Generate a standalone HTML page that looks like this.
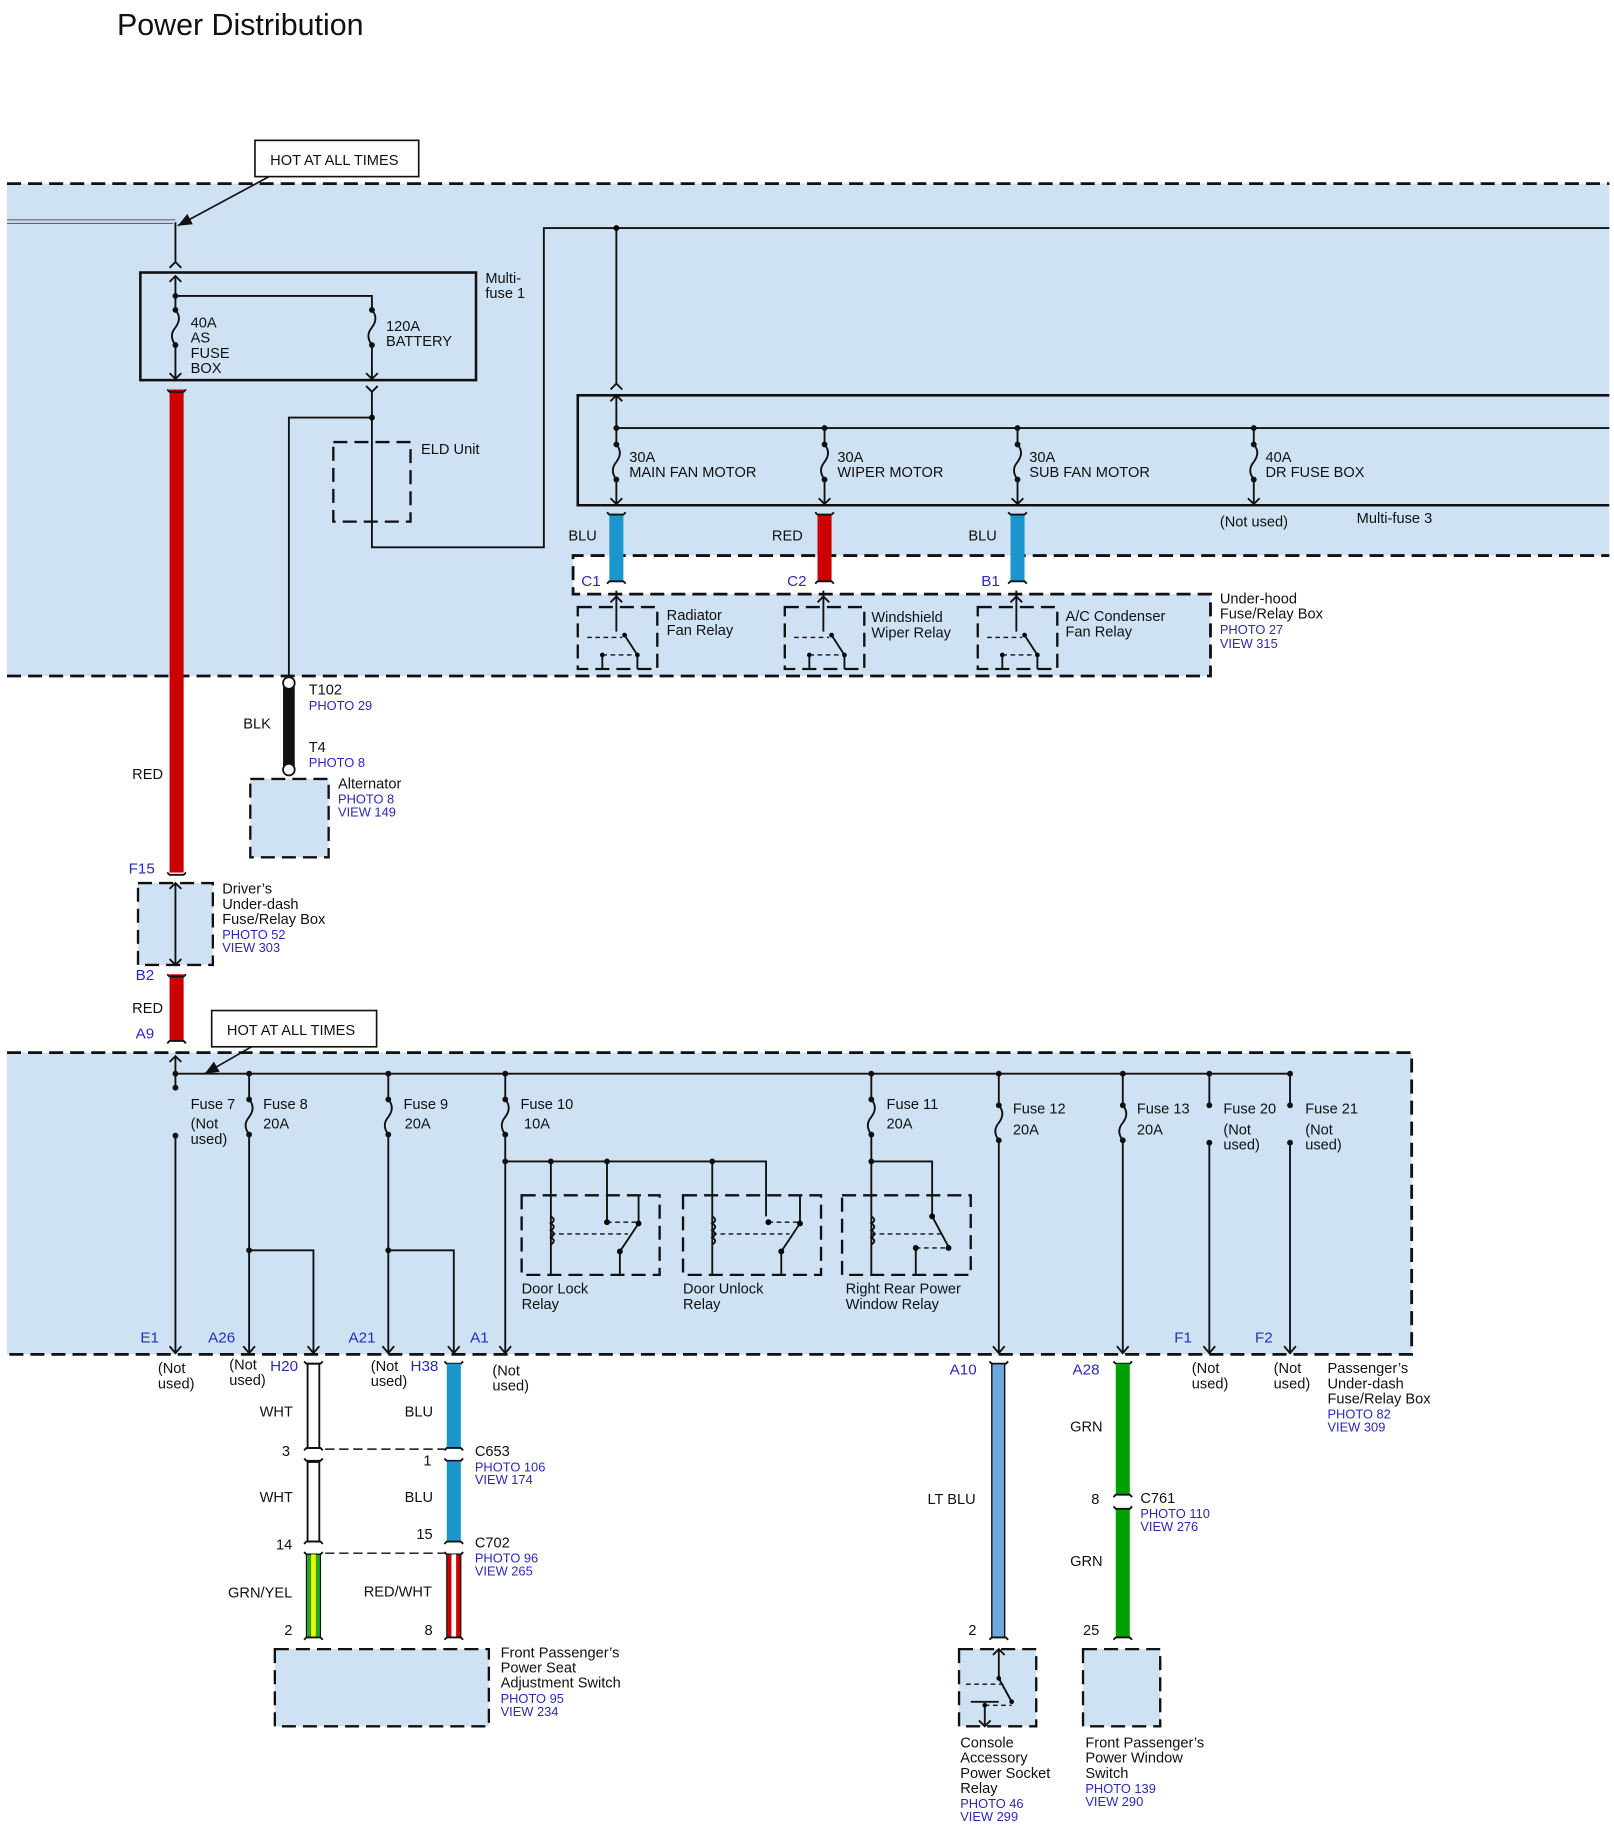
<!DOCTYPE html>
<html><head><meta charset="utf-8"><style>
html,body{margin:0;padding:0;background:#fff}
svg{display:block}
text{font-family:"Liberation Sans",Arial,sans-serif;font-size:12.5px;fill:#111}
.b{fill:#2a2ab8;font-size:11px}
.p{fill:#2a2ab8;font-size:13px}
.l{stroke:#111;stroke-width:1.6;fill:none}
.d{stroke:#111;stroke-width:2.4;fill:none;stroke-dasharray:12 6}
.ds{stroke:#111;stroke-width:1.2;fill:none;stroke-dasharray:4 3}
.bx{stroke:#111;stroke-width:2.2;fill:none}
</style></head><body>
<svg width="1614" height="1831" viewBox="0 0 1380 1565.5" preserveAspectRatio="none" xmlns="http://www.w3.org/2000/svg">
<defs>
<marker id="af" markerWidth="14" markerHeight="12" refX="12" refY="6" orient="auto" markerUnits="userSpaceOnUse"><path d="M0,1 L12,6 L0,11 z" fill="#111"/></marker>
</defs>
<text x="100" y="30" style="font-size:26px">Power Distribution</text>

<path d="M6,157 H1376 V475 H490 V508 H1035 V578 H6 Z" fill="#cfe2f3"/>
<path class="d" d="M6,157 H1376"/>
<path class="d" d="M6,578 H1035 V508 H490 V475 H1376"/>

<rect x="218" y="120" width="140" height="31" fill="#fff" stroke="#111" stroke-width="1.4"/>
<text x="231" y="141">HOT AT ALL TIMES</text>
<line x1="230" y1="151" x2="152" y2="193" stroke="#111" stroke-width="1.4" marker-end="url(#af)"/>
<path d="M6,188 H150 M6,191 H148" stroke="#555" stroke-width="0.8" fill="none"/>
<path class="l" d="M150,190 V224"/>
<path class="l" d="M145,229 L150,224 L155,229"/>

<rect class="bx" x="120" y="233" width="287" height="92"/>
<text x="415" y="242">Multi-</text><text x="415" y="255">fuse 1</text>
<path class="l" d="M150,236 V265 M150,295 V325 M150,253 H318 V265 M318,295 V325"/>
<path class="l" d="M145,241 L150,236 L155,241 M145,319 L150,324 L155,319 M313,319 L318,324 L323,319"/>
<path class="l" d="M150,265 q6,7 0,15 q-6,7 0,15 M318,265 q6,7 0,15 q-6,7 0,15"/>
<g fill="#111"><circle cx="150" cy="253" r="2.5"/><circle cx="150" cy="265" r="2.5"/><circle cx="150" cy="295" r="2.5"/><circle cx="318" cy="265" r="2.5"/><circle cx="318" cy="295" r="2.5"/></g>
<text x="163" y="280">40A</text><text x="163" y="293">AS</text><text x="163" y="306">FUSE</text><text x="163" y="319">BOX</text>
<text x="330" y="283">120A</text><text x="330" y="296">BATTERY</text>

<rect x="145" y="333" width="12" height="413" fill="#cc0000"/>
<path class="l" d="M143,333 L145,335 H157 L159,333"/>
<path class="l" d="M313,330 L318,335 L323,330 M318,335 V468 H465 V195 H1376"/>
<circle cx="318" cy="357" r="2.5"/>
<path class="l" d="M318,357 H247 V583"/>
<rect x="285" y="378" width="66" height="68" class="d" style="stroke-width:2"/>
<text x="360" y="388">ELD Unit</text>

<circle cx="527" cy="195" r="2.5"/>
<path class="l" d="M527,195 V328 M522,333 L527,328 L532,333"/>
<path class="bx" d="M1376,338 H494 V432 H1376"/>
<path class="l" d="M527,338 V380 M527,366 H1376 M705,366 V380 M870,366 V380 M1072,366 V380"/>
<path class="l" d="M522,343 L527,338 L532,343"/>
<g class="l"><path d="M527,380 q6,7 0,15 q-6,7 0,15 M705,380 q6,7 0,15 q-6,7 0,15 M870,380 q6,7 0,15 q-6,7 0,15 M1072,380 q6,7 0,15 q-6,7 0,15"/>
<path d="M527,410 V432 M705,410 V432 M870,410 V432 M1072,410 V432 M522,426 L527,431 L532,426 M700,426 L705,431 L710,426 M865,426 L870,431 L875,426 M1067,426 L1072,431 L1077,426"/></g>
<g fill="#111"><circle cx="527" cy="366" r="2.5"/><circle cx="705" cy="366" r="2.5"/><circle cx="870" cy="366" r="2.5"/><circle cx="1072" cy="366" r="2.5"/>
<circle cx="527" cy="380" r="2.5"/><circle cx="527" cy="410" r="2.5"/><circle cx="705" cy="380" r="2.5"/><circle cx="705" cy="410" r="2.5"/><circle cx="870" cy="380" r="2.5"/><circle cx="870" cy="410" r="2.5"/><circle cx="1072" cy="380" r="2.5"/><circle cx="1072" cy="410" r="2.5"/></g>
<text x="538" y="395">30A</text><text x="538" y="408">MAIN FAN MOTOR</text>
<text x="716" y="395">30A</text><text x="716" y="408">WIPER MOTOR</text>
<text x="880" y="395">30A</text><text x="880" y="408">SUB FAN MOTOR</text>
<text x="1082" y="395">40A</text><text x="1082" y="408">DR FUSE BOX</text>
<text x="1043" y="450">(Not used)</text><text x="1160" y="447">Multi-fuse 3</text>

<rect x="521" y="440" width="12" height="57" fill="#1a96cc"/>
<rect x="699" y="440" width="12" height="57" fill="#cc0000"/>
<rect x="864" y="440" width="12" height="57" fill="#1a96cc"/>
<path class="l" d="M519,438 L521,440 H533 L535,438 M697,438 L699,440 H711 L713,438 M862,438 L864,440 H876 L878,438 M519,499 L521,497 H533 L535,499 M697,499 L699,497 H711 L713,499 M862,499 L864,497 H876 L878,499"/>
<text x="486" y="462">BLU</text><text x="660" y="462">RED</text><text x="828" y="462">BLU</text>
<text x="497" y="501" class="p">C1</text><text x="673" y="501" class="p">C2</text><text x="839" y="501" class="p">B1</text>

<g id="r1">
<rect x="494" y="519" width="68" height="53" class="d" style="stroke-width:2"/>
<path class="l" d="M527,505 V540 M522,515 L527,510 L532,515 M515,560 V572 M545,560 V572 M545,560 L534,543"/>
<circle cx="534" cy="543" r="2"/><circle cx="545" cy="560" r="2"/><circle cx="515" cy="560" r="2"/>
<path class="ds" d="M502,545 H532 M515,560 H545"/>
</g>
<use href="#r1" x="177"/><use href="#r1" x="342"/>
<text x="570" y="530">Radiator</text><text x="570" y="543">Fan Relay</text>
<text x="745" y="532">Windshield</text><text x="745" y="545">Wiper Relay</text>
<text x="911" y="531">A/C Condenser</text><text x="911" y="544">Fan Relay</text>
<text x="1043" y="516">Under-hood</text><text x="1043" y="529">Fuse/Relay Box</text>
<text x="1043" y="542" class="b">PHOTO 27</text><text x="1043" y="554" class="b">VIEW 315</text>

<rect x="242" y="585" width="10" height="73" fill="#111"/>
<circle cx="247" cy="584" r="5" fill="#fff" stroke="#111" stroke-width="1.5"/>
<circle cx="247" cy="658" r="5" fill="#fff" stroke="#111" stroke-width="1.5"/>
<text x="264" y="594">T102</text><text x="264" y="607" class="b">PHOTO 29</text>
<text x="208" y="623">BLK</text>
<text x="264" y="643">T4</text><text x="264" y="656" class="b">PHOTO 8</text>
<rect x="214" y="666" width="67" height="67" class="d" style="stroke-width:2;fill:#cfe2f3"/>
<text x="289" y="674">Alternator</text><text x="289" y="687" class="b">PHOTO 8</text><text x="289" y="698" class="b">VIEW 149</text>
<text x="113" y="666">RED</text>

<path class="l" d="M143,746 L145,748 H157 L159,746"/>
<text x="110" y="747" class="p">F15</text>
<rect x="118" y="755" width="64" height="70" class="d" style="stroke-width:2;fill:#cfe2f3"/>
<path class="l" d="M150,755 V825 M145,760 L150,755 L155,760 M145,820 L150,825 L155,820"/>
<text x="190" y="764">Driver’s</text><text x="190" y="777">Under-dash</text><text x="190" y="790">Fuse/Relay Box</text>
<text x="190" y="803" class="b">PHOTO 52</text><text x="190" y="814" class="b">VIEW 303</text>
<text x="116" y="838" class="p">B2</text>
<rect x="145" y="833" width="12" height="57" fill="#cc0000"/>
<path class="l" d="M143,833 L145,835 H157 L159,833 M143,892 L145,890 H157 L159,892"/>
<text x="113" y="866">RED</text><text x="116" y="888" class="p">A9</text>

<rect x="6" y="900" width="1201" height="258" fill="#cfe2f3"/>
<path class="d" d="M6,900 H1207 V1158 H6"/>
<rect x="181" y="864" width="141" height="31" fill="#fff" stroke="#111" stroke-width="1.4"/>
<text x="194" y="885">HOT AT ALL TIMES</text>
<line x1="215" y1="895" x2="175" y2="918" stroke="#111" stroke-width="1.4" marker-end="url(#af)"/>
<path class="l" d="M150,903 V930 M145,908 L150,903 L155,908 M150,918 H1103"/>
<g fill="#111">
<circle cx="150" cy="918" r="2.5"/><circle cx="213" cy="918" r="2.5"/><circle cx="332" cy="918" r="2.5"/><circle cx="432" cy="918" r="2.5"/><circle cx="745" cy="918" r="2.5"/><circle cx="854" cy="918" r="2.5"/><circle cx="960" cy="918" r="2.5"/><circle cx="1034" cy="918" r="2.5"/><circle cx="1103" cy="918" r="2.5"/>
<circle cx="150" cy="930" r="2.5"/><circle cx="150" cy="971" r="2.5"/>
<circle cx="213" cy="940" r="2.5"/><circle cx="213" cy="970" r="2.5"/>
<circle cx="332" cy="940" r="2.5"/><circle cx="332" cy="970" r="2.5"/>
<circle cx="432" cy="940" r="2.5"/><circle cx="432" cy="970" r="2.5"/>
<circle cx="745" cy="940" r="2.5"/><circle cx="745" cy="970" r="2.5"/>
<circle cx="854" cy="945" r="2.5"/><circle cx="854" cy="975" r="2.5"/>
<circle cx="960" cy="945" r="2.5"/><circle cx="960" cy="975" r="2.5"/>
<circle cx="1034" cy="945" r="2.5"/><circle cx="1034" cy="977" r="2.5"/>
<circle cx="1103" cy="945" r="2.5"/><circle cx="1103" cy="977" r="2.5"/>
<circle cx="213" cy="1069" r="2.5"/><circle cx="332" cy="1069" r="2.5"/>
<circle cx="432" cy="993" r="2.5"/><circle cx="471" cy="993" r="2.5"/><circle cx="519" cy="993" r="2.5"/><circle cx="609" cy="993" r="2.5"/><circle cx="745" cy="993" r="2.5"/>
</g>
<g class="l">
<path d="M213,918 V940 M332,918 V940 M432,918 V940 M745,918 V940 M854,918 V945 M960,918 V945 M1034,918 V945 M1103,918 V945"/>
<path d="M213,940 q6,7 0,15 q-6,7 0,15 M332,940 q6,7 0,15 q-6,7 0,15 M432,940 q6,7 0,15 q-6,7 0,15 M745,940 q6,7 0,15 q-6,7 0,15 M854,945 q6,7 0,15 q-6,7 0,15 M960,945 q6,7 0,15 q-6,7 0,15"/>
<path d="M150,971 V1157 M213,970 V1157 M332,970 V1157 M432,970 V1157 M854,975 V1157 M960,975 V1157 M1034,977 V1157 M1103,977 V1157 M213,1069 H268 V1157 M332,1069 H388 V1157 M432,993 H655 V1040 M471,993 V1090 M519,993 V1045 M609,993 V1090 M745,970 V1090 M745,993 H797 V1040"/>
<path d="M145,1151 L150,1157 L155,1151 M208,1151 L213,1157 L218,1151 M263,1151 L268,1157 L273,1151 M327,1151 L332,1157 L337,1151 M383,1151 L388,1157 L393,1151 M427,1151 L432,1157 L437,1151 M849,1151 L854,1157 L859,1151 M955,1151 L960,1157 L965,1151 M1029,1151 L1034,1157 L1039,1151 M1098,1151 L1103,1157 L1108,1151"/>
</g>
<text x="163" y="948">Fuse 7</text><text x="163" y="965">(Not</text><text x="163" y="978">used)</text>
<text x="225" y="948">Fuse 8</text><text x="225" y="965">20A</text>
<text x="345" y="948">Fuse 9</text><text x="346" y="965">20A</text>
<text x="445" y="948">Fuse 10</text><text x="448" y="965">10A</text>
<text x="758" y="948">Fuse 11</text><text x="758" y="965">20A</text>
<text x="866" y="952">Fuse 12</text><text x="866" y="970">20A</text>
<text x="972" y="952">Fuse 13</text><text x="972" y="970">20A</text>
<text x="1046" y="952">Fuse 20</text><text x="1046" y="970">(Not</text><text x="1046" y="983">used)</text>
<text x="1116" y="952">Fuse 21</text><text x="1116" y="970">(Not</text><text x="1116" y="983">used)</text>

<g id="r2">
<rect x="446" y="1022" width="118" height="68" class="d" style="stroke-width:2"/>
<path class="l" d="M471,1040 q5,3 0,6 q5,3 0,6 q5,3 0,6 q5,3 0,6"/>
<path class="l" d="M530,1070 V1090 M530,1070 L546,1046 M546,1046 V1022"/>
<circle cx="519" cy="1045" r="2.5"/><circle cx="546" cy="1046" r="2.5"/><circle cx="530" cy="1070" r="2.5"/>
<path class="ds" d="M471,1055 H537 M519,1045 H546"/>
</g>
<use href="#r2" x="138"/>
<rect x="720" y="1022" width="110" height="68" class="d" style="stroke-width:2"/>
<path class="l" d="M745,1040 q5,3 0,6 q5,3 0,6 q5,3 0,6 q5,3 0,6 M797,1040 L811,1066 M783,1067 V1090"/>
<circle cx="797" cy="1040" r="2.5"/><circle cx="811" cy="1067" r="2.5"/><circle cx="783" cy="1067" r="2.5"/>
<path class="ds" d="M745,1055 H805 M783,1067 H811"/>
<text x="446" y="1106">Door Lock</text><text x="446" y="1119">Relay</text>
<text x="584" y="1106">Door Unlock</text><text x="584" y="1119">Relay</text>
<text x="723" y="1106">Right Rear Power</text><text x="723" y="1119">Window Relay</text>

<text x="120" y="1148" class="p">E1</text><text x="178" y="1148" class="p">A26</text><text x="298" y="1148" class="p">A21</text><text x="402" y="1148" class="p">A1</text><text x="1004" y="1148" class="p">F1</text><text x="1073" y="1148" class="p">F2</text>
<text x="135" y="1174">(Not</text><text x="135" y="1187">used)</text>
<text x="196" y="1171">(Not</text><text x="196" y="1184">used)</text>
<text x="317" y="1172">(Not</text><text x="317" y="1185">used)</text>
<text x="421" y="1176">(Not</text><text x="421" y="1189">used)</text>
<text x="1019" y="1174">(Not</text><text x="1019" y="1187">used)</text>
<text x="1089" y="1174">(Not</text><text x="1089" y="1187">used)</text>
<text x="231" y="1172" class="p">H20</text><text x="351" y="1172" class="p">H38</text>
<text x="812" y="1175" class="p">A10</text><text x="917" y="1175" class="p">A28</text>
<text x="1135" y="1174">Passenger’s</text><text x="1135" y="1187">Under-dash</text><text x="1135" y="1200">Fuse/Relay Box</text>
<text x="1135" y="1213" class="b">PHOTO 82</text><text x="1135" y="1224" class="b">VIEW 309</text>

<g class="l">
<path d="M260,1164 L262,1166 H274 L276,1164 M380,1164 L382,1166 H394 L396,1164 M846,1164 L848,1166 H860 L862,1164 M952,1164 L954,1166 H966 L968,1164"/>
</g>
<rect x="263" y="1166" width="10" height="72" fill="#fff" stroke="#111" stroke-width="1.6"/>
<rect x="263" y="1250" width="10" height="68" fill="#fff" stroke="#111" stroke-width="1.6"/>
<rect x="382" y="1166" width="12" height="72" fill="#1a96cc"/>
<rect x="382" y="1250" width="12" height="68" fill="#1a96cc"/>
<path class="l" d="M260,1240 L262,1238 H274 L276,1240 M260,1247 L262,1249 H274 L276,1247 M380,1240 L382,1238 H394 L396,1240 M380,1247 L382,1249 H394 L396,1247 M260,1320 L262,1318 H274 L276,1320 M260,1327 L262,1329 H274 L276,1327 M380,1320 L382,1318 H394 L396,1320 M380,1327 L382,1329 H394 L396,1327"/>
<path class="ds" d="M278,1239 H380 M278,1328 H380" style="stroke-dasharray:8 4"/>
<rect x="262" y="1329" width="12" height="71" fill="#22aa22" stroke="#111" stroke-width="1"/>
<rect x="266" y="1329" width="4" height="71" fill="#f4f400"/>
<rect x="382" y="1329" width="12" height="71" fill="#cc0000" stroke="#111" stroke-width="1"/>
<rect x="386" y="1329" width="4" height="71" fill="#fff"/>
<path class="l" d="M260,1402 L262,1400 H274 L276,1402 M380,1402 L382,1400 H394 L396,1402"/>
<text x="222" y="1211">WHT</text><text x="346" y="1211">BLU</text>
<text x="241" y="1245">3</text><text x="362" y="1253">1</text>
<text x="406" y="1245">C653</text><text x="406" y="1258" class="b">PHOTO 106</text><text x="406" y="1269" class="b">VIEW 174</text>
<text x="222" y="1284">WHT</text><text x="346" y="1284">BLU</text>
<text x="236" y="1325">14</text><text x="356" y="1316">15</text>
<text x="406" y="1323">C702</text><text x="406" y="1336" class="b">PHOTO 96</text><text x="406" y="1347" class="b">VIEW 265</text>
<text x="195" y="1366">GRN/YEL</text><text x="311" y="1365">RED/WHT</text>
<text x="243" y="1398">2</text><text x="363" y="1398">8</text>
<rect x="235" y="1410" width="183" height="66" class="d" style="stroke-width:2;fill:#cfe2f3"/>
<text x="428" y="1417">Front Passenger’s</text><text x="428" y="1430">Power Seat</text><text x="428" y="1443">Adjustment Switch</text>
<text x="428" y="1456" class="b">PHOTO 95</text><text x="428" y="1467" class="b">VIEW 234</text>

<rect x="848" y="1166" width="11" height="234" fill="#6fa8dc" stroke="#111" stroke-width="1.2"/>
<path class="l" d="M846,1402 L848,1400 H860 L862,1402"/>
<text x="793" y="1286">LT BLU</text><text x="828" y="1398">2</text>
<rect x="820" y="1410" width="66" height="66" class="d" style="stroke-width:2;fill:#cfe2f3"/>
<path class="l" d="M854,1410 V1435 M849,1415 L854,1410 L859,1415 M842,1458 V1476 M837,1471 L842,1476 L847,1471 M854,1435 L865,1455 M854,1455 L830,1455"/>
<circle cx="854" cy="1435" r="2"/><circle cx="865" cy="1455" r="2"/><circle cx="842" cy="1458" r="2"/>
<path class="ds" d="M826,1440 H860 M842,1458 H865"/>
<text x="821" y="1494">Console</text><text x="821" y="1507">Accessory</text><text x="821" y="1520">Power Socket</text><text x="821" y="1533">Relay</text>
<text x="821" y="1546" class="b">PHOTO 46</text><text x="821" y="1557" class="b">VIEW 299</text>

<rect x="954" y="1166" width="12" height="112" fill="#00a000"/>
<rect x="954" y="1290" width="12" height="110" fill="#00a000"/>
<path class="l" d="M952,1280 L954,1278 H966 L968,1280 M952,1288 L954,1290 H966 L968,1288 M952,1402 L954,1400 H966 L968,1402"/>
<text x="915" y="1224">GRN</text><text x="915" y="1339">GRN</text>
<text x="933" y="1286">8</text><text x="975" y="1285">C761</text><text x="975" y="1298" class="b">PHOTO 110</text><text x="975" y="1309" class="b">VIEW 276</text>
<text x="926" y="1398">25</text>
<rect x="926" y="1410" width="66" height="66" class="d" style="stroke-width:2;fill:#cfe2f3"/>
<text x="928" y="1494">Front Passenger’s</text><text x="928" y="1507">Power Window</text><text x="928" y="1520">Switch</text>
<text x="928" y="1533" class="b">PHOTO 139</text><text x="928" y="1544" class="b">VIEW 290</text>
</svg>
</body></html>
